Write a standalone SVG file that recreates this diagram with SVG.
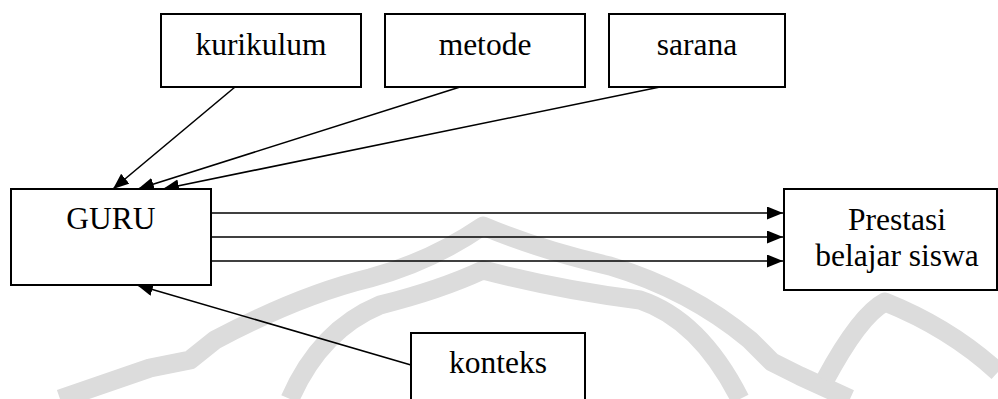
<svg xmlns="http://www.w3.org/2000/svg" width="998" height="399" viewBox="0 0 998 399">
<style>
.box{fill:#fff;stroke:#000;stroke-width:2}
.lbl{font-family:'Liberation Serif','Times New Roman',serif;font-size:31.5px;fill:#000;text-anchor:middle}
.edge{stroke:#000;stroke-width:1.6;fill:none;marker-end:url(#arr)}
.wm{fill:none;stroke:#dcdcdc;stroke-width:19;stroke-linejoin:round;stroke-linecap:butt}
</style>
<defs>
<marker id="arr" markerUnits="userSpaceOnUse" markerWidth="17" markerHeight="14" refX="16" refY="6.5" orient="auto">
<path d="M0,0 L16,6.5 L0,13 z" fill="#000"/>
</marker>
</defs>
<rect width="998" height="399" fill="#fff"/>
<g id="watermark">
<path class="wm" d="M60 399 L150 368 L190 360 L215 340 Q300 295 370 278 Q430 262 483 226 Q540 250 610 266 Q690 290 750 340 L772 362 L800 376 L850 399"/>
<path class="wm" d="M290 399 Q320 330 380 305 Q440 290 483 270 Q560 290 640 300 Q700 320 740 399"/>
<path class="wm" d="M825 380 Q860 315 885 302 Q950 328 998 372"/>
</g>
<g id="connectors">
<line class="edge" x1="235" y1="87" x2="113" y2="189"/>
<line class="edge" x1="460" y1="87" x2="138" y2="189"/>
<line class="edge" x1="660" y1="87" x2="163" y2="189"/>
<line class="edge" x1="211" y1="213" x2="783" y2="213"/>
<line class="edge" x1="211" y1="237" x2="783" y2="237"/>
<line class="edge" x1="211" y1="261" x2="783" y2="261"/>
<line class="edge" x1="411" y1="365" x2="137" y2="285"/>
</g>
<g id="kurikulum">
<rect class="box" x="161" y="14" width="200" height="73"/>
<text class="lbl" x="261" y="55">kurikulum</text>
</g>
<g id="metode">
<rect class="box" x="385" y="14" width="200" height="73"/>
<text class="lbl" x="485" y="55">metode</text>
</g>
<g id="sarana">
<rect class="box" x="609" y="14" width="176" height="73"/>
<text class="lbl" x="697" y="55">sarana</text>
</g>
<g id="guru">
<rect class="box" x="11" y="189" width="200" height="96"/>
<text class="lbl" x="111" y="229">GURU</text>
</g>
<g id="prestasi">
<rect class="box" x="784" y="189" width="213" height="101"/>
<text class="lbl" x="897" y="230">Prestasi</text>
<text class="lbl" x="897" y="266">belajar siswa</text>
</g>
<g id="konteks">
<rect class="box" x="411" y="333" width="174" height="80"/>
<text class="lbl" x="498" y="373">konteks</text>
</g>
</svg>
